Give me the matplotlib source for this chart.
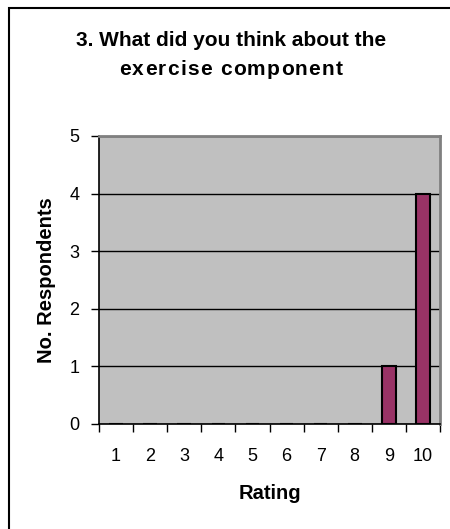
import matplotlib
matplotlib.use("Agg")
import matplotlib.pyplot as plt
from matplotlib.patches import Rectangle
import numpy as np

ratings = [1, 2, 3, 4, 5, 6, 7, 8, 9, 10]
respondents = [0, 0, 0, 0, 0, 0, 0, 0, 1, 4]
y_ticks = [0, 1, 2, 3, 4, 5]
title_lines = ["3. What did you think about the", "exercise component"]

plt.rcParams["font.family"] = ["Liberation Sans", "DejaVu Sans"]

W, H = 450, 529
fig = plt.figure(figsize=(W / 100, H / 100), dpi=100)
fig.patch.set_facecolor("white")

# chart frame: only the top and left edges fall inside the image
fig.add_artist(Rectangle((8.5 / W, -0.2), 1.2, 1.2 - 7.5 / H,
                         transform=fig.transFigure, fill=False,
                         edgecolor="black", linewidth=1.5))

ax = fig.add_axes([99 / W, 1 - 424 / H, 341 / W, 288 / H])
ax.set_facecolor("#C0C0C0")

x = np.arange(len(ratings))
ax.bar(x, respondents, width=0.4, color="#993366", edgecolor="black",
       linewidth=1.5, zorder=3)

ax.set_xlim(-0.5, len(ratings) - 0.5)
ax.set_ylim(0, 5)
ax.set_yticks(y_ticks)
ax.yaxis.grid(True, color="black", linewidth=1, zorder=1)
ax.set_axisbelow(True)

# category ticks sit between the bars, labels centred under each one
ax.set_xticks(np.arange(len(ratings) + 1) - 0.5)
ax.set_xticklabels([])
ax.set_xticks(x, minor=True)
ax.set_xticklabels([str(r) for r in ratings], minor=True)
ax.tick_params(axis="x", which="minor", length=0, pad=17, labelsize=13)
ax.tick_params(axis="x", which="major", length=6, width=1, direction="out")
ax.tick_params(axis="y", length=6, width=1, direction="out", pad=8, labelsize=13)

for side in ("left", "bottom"):
    ax.spines[side].set_color("black")
    ax.spines[side].set_linewidth(1.2)
for side in ("top", "right"):
    ax.spines[side].set_color("#808080")
    ax.spines[side].set_linewidth(2)

fig.text(0.513, 0.924, title_lines[0], ha="center", va="center",
         fontsize=15, fontweight="bold")


def spaced_text(s, xc, y, gap_px, **kw):
    """Draw s centred at xc with gap_px of extra space between characters."""
    renderer = fig.canvas.get_renderer()
    widths = []
    for ch in s:
        t = fig.text(0, 0, ch if ch != " " else "a a", **kw)
        w = t.get_window_extent(renderer).width
        if ch == " ":
            w -= 2 * fig.text(0, 0, "a", **kw).get_window_extent(renderer).width
            fig.texts.pop()
        widths.append(w)
        t.remove()
    total = sum(widths) + gap_px * (len(s) - 1)
    xp = xc * W - total / 2
    for ch, w in zip(s, widths):
        if ch != " ":
            fig.text(xp / W, y, ch, ha="left", va="center", **kw)
        xp += w + gap_px


spaced_text(title_lines[1], 0.513, 0.868, 1.2, fontsize=15, fontweight="bold")

fig.text(0.104, 0.47, "No. Respondents", rotation=90, ha="center",
         va="center", fontsize=14.5, fontweight="bold")
fig.text(0.6, 0.068, "Rating", ha="center", va="center", fontsize=14.5,
         fontweight="bold")

fig.savefig("out.png", dpi=100, facecolor="white")
